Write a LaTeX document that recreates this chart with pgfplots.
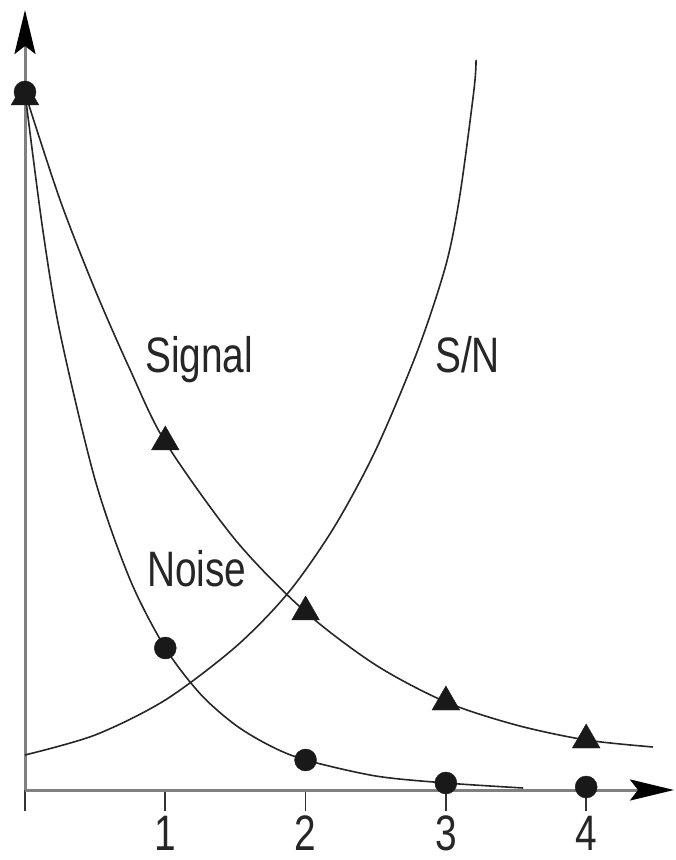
\documentclass[border=0pt]{standalone}
\usepackage{fontspec}
\setmainfont{Liberation Sans}[FakeStretch=0.78]
\usepackage{pgfplots}
\pgfplotsset{compat=1.18}
\usetikzlibrary{arrows.meta}

\newcommand{\lbl}{\fontsize{50}{60}\selectfont}

\begin{document}
\begin{tikzpicture}
\begin{axis}[
  scale only axis,
  width=649bp, height=780bp,
  xmin=0, xmax=4.626, ymin=0, ymax=780,
  axis lines=left,
  axis line style={black!50, line width=3bp},
  x axis line style={-{Stealth[length=44bp,width=21bp,inset=8bp,black]}},
  y axis line style={-{Stealth[length=44bp,width=21bp,inset=8bp,black]}},
  xtick={0,1,2,3,4}, xticklabels={,1,2,3,4},
  ytick=\empty,
  tick align=outside,
  major tick length=21bp,
  every tick/.style={black!80, line width=1.6bp},
  xticklabel style={font=\lbl, text=black!85, anchor=north, inner sep=0pt, yshift=-5bp},
  /pgf/number format/assume math mode=true,
  clip=false,
]
% Signal
\addplot[black!85, line width=1.6bp, smooth] coordinates {
  (0,697) (0.25,590) (0.5,500) (0.75,420) (1,348) (1.5,250) (2,178)
  (2.5,125) (3,88) (3.5,65) (4,50) (4.476,43)};
% Noise
\addplot[black!85, line width=1.6bp, smooth] coordinates {
  (0,697) (0.125,562) (0.25,457) (0.5,310) (0.75,210) (1,142) (1.25,96)
  (1.5,65) (1.75,44) (2,30) (2.5,14) (3,7) (3.55,2)};
% S/N
\addplot[black!85, line width=1.6bp, smooth] coordinates {
  (0,35) (0.5,55) (1,90) (1.5,143) (1.875,197) (2.2,262) (2.5,340)
  (2.8,440) (3.0,525) (3.1,595) (3.2,700) (3.215,730)};
% markers
\addplot[only marks, mark=triangle*, mark size=16bp, black!90] coordinates {
  (0,693) (1,348) (2,178) (3,88) (4,50)};
\addplot[only marks, mark=*, mark size=11bp, black!90] coordinates {
  (0,698) (1,142) (2,30) (3,7) (4,3)};
% curve names
\node[anchor=base west, inner sep=0pt, font=\lbl, text=black!85] at (axis cs:0.855,417) {Signal};
\node[anchor=base west, inner sep=0pt, font=\lbl, text=black!85] at (axis cs:2.922,417) {S/N};
\node[anchor=base west, inner sep=0pt, font=\lbl, text=black!85] at (axis cs:0.87,203) {Noise};
\path (axis cs:-0.1782,-70) rectangle (axis cs:4.626,790);
\end{axis}
\end{tikzpicture}
\end{document}
